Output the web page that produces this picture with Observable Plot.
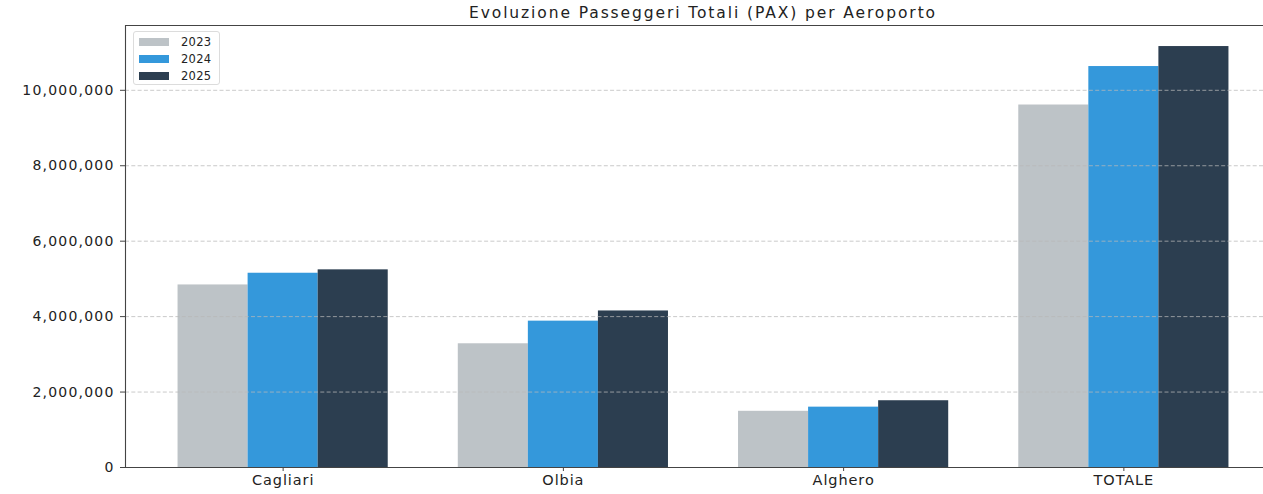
<!DOCTYPE html>
<html>
<head>
<meta charset="utf-8">
<script src="https://cdn.jsdelivr.net/npm/d3@7"></script>
<script src="https://cdn.jsdelivr.net/npm/@observablehq/plot@0.6"></script>
<style>
  html, body { margin: 0; padding: 0; background: #fff; overflow: hidden; }
  #wrap { position: relative; width: 1263px; height: 494px; overflow: hidden; font-family: "DejaVu Sans", sans-serif; color: #222; }
  #title { position: absolute; z-index: 2; left: 125px; width: 1156px; top: 3px; height: 20px; line-height: 20px; text-align: center; font-size: 15.5px; letter-spacing: 1.9px; color: #222; white-space: nowrap; }
  #chart { position: absolute; left: 0; top: 20px; z-index: 1; }
  #legend { position: absolute; z-index: 3; left: 133px; top: 31px; width: 87px; height: 54px; border: 1px solid #dcdcdc; border-radius: 3px; background: rgba(255,255,255,0.85); box-sizing: border-box; }
  .li { position: absolute; left: 5px; height: 17px; display: flex; align-items: center; font-size: 11.5px; letter-spacing: 0.3px; color: #222; }
  .sw { width: 30px; height: 8px; margin-right: 12px; }
  g[aria-label="y-axis tick label"] text { letter-spacing: 1.2px; }
  g[aria-label="x-axis tick label"] text { letter-spacing: 0.9px; }
</style>
</head>
<body>
<div id="wrap">
  <div id="title"></div>
  <div id="chart"></div>
  <div id="legend"></div>
</div>
<script>
const titleText = "Evoluzione Passeggeri Totali (PAX) per Aeroporto";
const categories = ["Cagliari", "Olbia", "Alghero", "TOTALE"];
const years = ["2023", "2024", "2025"];
const pax2023 = [4840000, 3280000, 1490000, 9610000];
const pax2024 = [5150000, 3880000, 1600000, 10630000];
const pax2025 = [5240000, 4150000, 1770000, 11160000];
const yTicks = [0, 2000000, 4000000, 6000000, 8000000, 10000000];
const colors = ["#bdc3c7", "#3498db", "#2c3e50"];

const series = [pax2023, pax2024, pax2025];
const rows = categories.flatMap((c, ci) => years.map((yr, yi) => ({cat: c, ci, year: yr, yi, value: series[yi][ci]})));

const barWidth = 0.25;
const xDomain = [-0.5625, categories.length - 1 + 0.5625];
const yMax = d3.max(rows, d => d.value) * 1.05;

document.getElementById("title").textContent = titleText;

const chart = Plot.plot({
  width: 1263,
  height: 474,
  marginTop: 5,
  marginBottom: 27,
  marginLeft: 125,
  marginRight: 0,
  style: {fontFamily: "DejaVu Sans, sans-serif", fontSize: "14px", color: "#222", background: "white"},
  x: {type: "linear", domain: xDomain, range: [125, 1281]},
  y: {domain: [0, yMax]},
  color: {type: "ordinal", domain: years, range: colors},
  marks: [
    Plot.rectY(rows, {
      x1: d => d.ci + (d.yi - 1) * barWidth - barWidth / 2,
      x2: d => d.ci + (d.yi - 1) * barWidth + barWidth / 2,
      y: "value",
      fill: "year"
    }),
    Plot.gridY(yTicks.filter(t => t > 0), {stroke: "#b8b8b8", strokeOpacity: 0.75, strokeWidth: 1, strokeDasharray: "4,2.3"}),
    Plot.axisY({ticks: yTicks, tickFormat: d3.format(","), tickSize: 5, tickPadding: 6, fontSize: 14, stroke: "#444", label: null}),
    Plot.axisX({ticks: categories.map((c, i) => i), tickFormat: i => categories[i], tickSize: 4, tickPadding: 3, fontSize: 14.5, stroke: "#444", label: null}),
    Plot.ruleY([0, yMax], {stroke: "#444", strokeWidth: 1.1}),
    Plot.ruleX([xDomain[0]], {stroke: "#444", strokeWidth: 1.1})
  ]
});
document.getElementById("chart").appendChild(chart);

const legend = document.getElementById("legend");
years.forEach((yr, i) => {
  const item = document.createElement("div");
  item.className = "li";
  item.style.top = (1 + i * 17) + "px";
  const sw = document.createElement("span");
  sw.className = "sw";
  sw.style.background = colors[i];
  const lb = document.createElement("span");
  lb.textContent = yr;
  item.appendChild(sw);
  item.appendChild(lb);
  legend.appendChild(item);
});
</script>
</body>
</html>
